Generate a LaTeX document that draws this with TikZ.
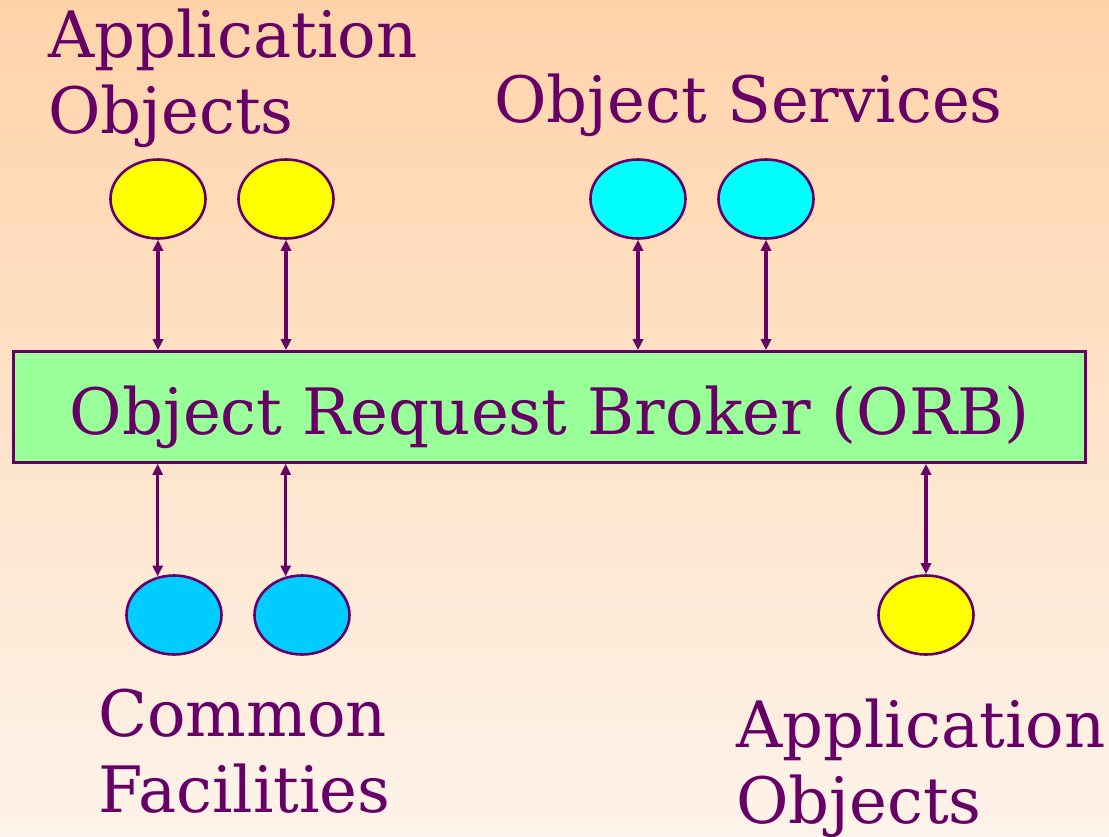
\documentclass[tikz,border=0pt]{standalone}
\usepackage{fontspec}
\setmainfont{DejaVu Serif}
\usetikzlibrary{shapes.geometric,arrows.meta}
\definecolor{ink}{HTML}{660066}
\definecolor{bgtop}{HTML}{FFD3A9}
\definecolor{bgbot}{HTML}{FEF3EA}
\definecolor{orbfill}{HTML}{99FF99}
\definecolor{appy}{HTML}{FFFF00}
\definecolor{svc}{HTML}{00FFFF}
\definecolor{fac}{HTML}{00CCFF}
\tikzset{
  obj/.style={ellipse,draw=ink,line width=2.6pt,minimum width=95pt,minimum height=79pt,inner sep=0pt},
  lbl/.style={text=ink,font=\fontsize{64}{76}\selectfont,align=left,inner sep=0pt,anchor=base west},
  link/.style={draw=ink,line width=3.6pt,{Triangle[length=11pt,width=10pt]}-{Triangle[length=11pt,width=10pt]}}
}
\begin{document}
\begin{tikzpicture}[x=1pt,y=-1pt]
\useasboundingbox (0,0) rectangle (1109,836);
\shade[top color=bgtop,bottom color=bgbot] (0,0) rectangle (1109,836);
\node[draw=ink,fill=orbfill,line width=2.6pt,minimum width=1072pt,minimum height=111pt,inner sep=0pt] (orb) at (549.5,407) {};
\node[text=ink,font=\fontsize{64}{76}\selectfont,inner sep=0pt,anchor=base] (orbtxt) at (549.5,434) {Object Request Broker (ORB)};
\node[obj,fill=appy] (a1) at (158,199) {};
\node[obj,fill=appy] (a2) at (286,199) {};
\node[obj,fill=svc] (s1) at (638,199) {};
\node[obj,fill=svc] (s2) at (766,199) {};
\node[obj,fill=fac] (f1) at (174,615) {};
\node[obj,fill=fac] (f2) at (302,615) {};
\node[obj,fill=appy] (a3) at (926,615) {};
\node[lbl] (lab1) at (48,133) {Application\\Objects};
\node[lbl] (lab2) at (494,122) {Object Services};
\node[lbl] (lab3) at (98,812) {Common\\Facilities};
\node[lbl] (lab4) at (736,823) {Application\\Objects};
\draw[link] (a1.south) -- (a1.south |- orb.north);
\draw[link] (a2.south) -- (a2.south |- orb.north);
\draw[link] (s1.south) -- (s1.south |- orb.north);
\draw[link] (s2.south) -- (s2.south |- orb.north);
\draw[link] (f1.113 |- orb.south) -- (f1.113);
\draw[link] (f2.113 |- orb.south) -- (f2.113);
\draw[link] (a3.north |- orb.south) -- (a3.north);
\end{tikzpicture}
\end{document}
